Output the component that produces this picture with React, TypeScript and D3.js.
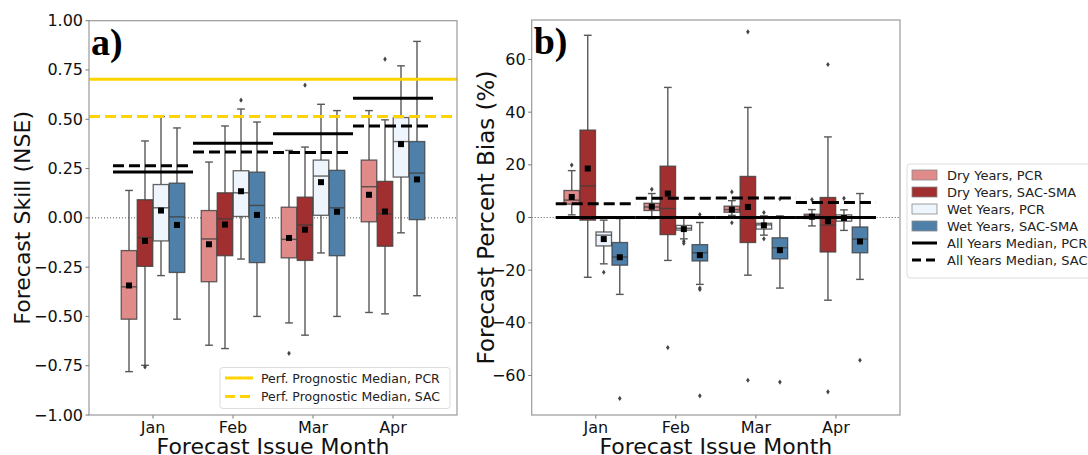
import React from "react";
import * as d3 from "d3";

const months = ["Jan", "Feb", "Mar", "Apr"];
const seriesNames = ["Dry Years, PCR", "Dry Years, SAC-SMA", "Wet Years, PCR", "Wet Years, SAC-SMA"];
const seriesFill = ["#e08a8a", "#a12f2f", "#eff5fd", "#4f80a9"];

// stats per box: [lowWhisker, q1, median, q3, highWhisker, mean]
const nseDryPCR = [
  [-0.78, -0.514, -0.35, -0.166, 0.139, -0.343],
  [-0.646, -0.324, -0.107, 0.037, 0.283, -0.134],
  [-0.533, -0.203, -0.109, 0.054, 0.342, -0.102],
  [-0.48, -0.02, 0.158, 0.293, 0.544, 0.117],
];
const nseDrySAC = [
  [-0.748, -0.246, -0.1, 0.092, 0.39, -0.117],
  [-0.663, -0.192, -0.005, 0.127, 0.466, -0.034],
  [-0.595, -0.216, -0.036, 0.105, 0.359, -0.06],
  [-0.487, -0.144, 0.02, 0.185, 0.497, 0.032],
];
const nseWetPCR = [
  [-0.293, -0.117, 0.051, 0.169, 0.514, 0.037],
  [-0.209, 0.007, 0.127, 0.239, 0.552, 0.135],
  [-0.178, 0.013, 0.212, 0.293, 0.576, 0.181],
  [-0.076, 0.207, 0.387, 0.509, 0.771, 0.374],
];
const nseWetSAC = [
  [-0.514, -0.277, 0.005, 0.176, 0.456, -0.036],
  [-0.5, -0.227, 0.063, 0.232, 0.486, 0.015],
  [-0.5, -0.192, 0.051, 0.241, 0.544, 0.031],
  [-0.395, -0.009, 0.227, 0.387, 0.895, 0.195],
];
// outliers [month index][series index] -> values
const nseOutliers = [
  [[], [-0.756], [], []],
  [[], [], [0.597], []],
  [[-0.687], [0.673], [], []],
  [[], [0.805], [], []],
];
const nseMedianPCR = [0.232, 0.379, 0.427, 0.607];
const nseMedianSAC = [0.264, 0.334, 0.332, 0.466];
const perfMedianPCR = 0.703;
const perfMedianSAC = 0.514;
const nseTicks = [-1.0, -0.75, -0.5, -0.25, 0.0, 0.25, 0.5, 0.75, 1.0];

const pbDryPCR = [
  [1.0, 5.05, 6.6, 10.25, 17.8, 7.8],
  [-0.4, 2.65, 4.0, 5.4, 9.1, 4.1],
  [0.8, 2.0, 3.0, 4.3, 6.4, 3.0],
  [-3.2, -0.4, 0.6, 1.25, 3.0, 0.3],
];
const pbDrySAC = [
  [-22.7, -1.0, 12.0, 33.2, 69.2, 18.6],
  [-16.3, -6.5, 3.4, 19.5, 49.4, 9.1],
  [-21.9, -9.5, 0.2, 15.6, 41.8, 4.0],
  [-31.4, -13.1, -2.9, 7.6, 30.6, -1.4],
];
const pbWetPCR = [
  [-17.6, -10.8, -6.7, -5.5, -1.0, -8.2],
  [-8.1, -4.8, -4.1, -3.0, -0.3, -4.4],
  [-6.7, -4.4, -2.8, -2.2, 0.6, -3.0],
  [-4.9, -1.4, 0.0, 1.0, 2.9, -0.2],
];
const pbWetSAC = [
  [-29.2, -18.1, -15.0, -9.5, -0.4, -15.1],
  [-25.4, -16.5, -13.4, -10.3, -1.9, -14.3],
  [-26.8, -15.7, -11.5, -7.7, 0.6, -12.4],
  [-23.5, -13.4, -8.2, -3.6, 9.1, -9.1],
];
const pbOutliers = [
  [[19.9], [], [-20.8], [-68.7]],
  [[10.7], [-49.4], [-9.0, -9.8], [1.1, -27.3, -26.8, -67.7]],
  [[9.7, -2.0], [70.5, -61.8], [1.9, -8.1], [7.1, -62.5]],
  [[6.8], [58.1, -66.2], [7.3], [-54.2]],
];
const pbMedianPCR = [0.0, 0.0, 0.0, 0.0];
const pbMedianSAC = [5.2, 7.3, 7.45, 5.7];
const pbTicks = [-60, -40, -20, 0, 20, 40, 60];

const FONT = "DejaVu Sans, sans-serif";

type PanelProps = {
  left: number;
  right: number;
  top: number;
  bottom: number;
  yDomain: [number, number];
  ticks: number[];
  tickFmt: (v: number) => string;
  series: number[][][];
  outliers: number[][][];
  medPCR: number[];
  medSAC: number[];
  yLabel: string;
  yLabelSize: number;
  letter: string;
  children?: React.ReactNode;
  yLabelX: number;
};

function Panel(p: PanelProps) {
  const x = d3.scaleLinear().domain([-0.8, 3.8]).range([p.left, p.right]);
  const y = d3.scaleLinear().domain(p.yDomain).range([p.bottom, p.top]);
  const unit = x(1) - x(0);
  const bw = 0.2 * unit * 0.97;
  const offsets = [-0.3, -0.1, 0.1, 0.3];
  const edge = "#3d3d3d";
  const whisk = "#585858";
  return (
    <g>
      <line x1={p.left} x2={p.right} y1={y(0)} y2={y(0)} stroke="#555" strokeWidth={1} strokeDasharray="1,2" />
      {months.map((m, mi) => {
        const cx = x(mi);
        return (
          <g key={m}>
            {p.series.map((s, si) => {
              const [lo, q1, med, q3, hi] = s[mi];
              const bx = x(mi + offsets[si]);
              return (
                <g key={si}>
                  <line x1={bx} x2={bx} y1={y(hi)} y2={y(q3)} stroke={whisk} strokeWidth={1.4} />
                  <line x1={bx} x2={bx} y1={y(q1)} y2={y(lo)} stroke={whisk} strokeWidth={1.4} />
                  <line x1={bx - bw / 4} x2={bx + bw / 4} y1={y(hi)} y2={y(hi)} stroke={whisk} strokeWidth={1.4} />
                  <line x1={bx - bw / 4} x2={bx + bw / 4} y1={y(lo)} y2={y(lo)} stroke={whisk} strokeWidth={1.4} />
                  <rect x={bx - bw / 2} y={y(q3)} width={bw} height={Math.max(0.5, y(q1) - y(q3))} fill={seriesFill[si]} stroke={edge} strokeWidth={1.3} strokeOpacity={0.8} />
                  <line x1={bx - bw / 2} x2={bx + bw / 2} y1={y(med)} y2={y(med)} stroke={edge} strokeWidth={1.4} strokeOpacity={0.8} />
                  {p.outliers[mi][si].map((o, oi) => (
                    <path key={oi} d={`M${bx},${y(o) - 2.6}L${bx + 1.8},${y(o)}L${bx},${y(o) + 2.6}L${bx - 1.8},${y(o)}Z`} fill="#444" />
                  ))}
                </g>
              );
            })}
            <line x1={x(mi - 0.5)} x2={x(mi + 0.5)} y1={y(p.medPCR[mi])} y2={y(p.medPCR[mi])} stroke="#000" strokeWidth={3} />
            <line x1={x(mi - 0.5)} x2={x(mi + 0.5)} y1={y(p.medSAC[mi])} y2={y(p.medSAC[mi])} stroke="#000" strokeWidth={3} strokeDasharray="11,5" />
            {p.series.map((s, si) => {
              const bx = x(mi + offsets[si]);
              const mean = s[mi][5];
              return <rect key={"m" + si} x={bx - 3} y={y(mean) - 3} width={6} height={6} fill="#000" />;
            })}
            <line x1={cx} x2={cx} y1={p.bottom} y2={p.bottom + 3.5} stroke="#777" strokeWidth={1} />
            <text x={cx} y={p.bottom + 12} textAnchor="middle" dominantBaseline="central" fontSize={16} fontFamily={FONT} fill="#111">{m}</text>
          </g>
        );
      })}
      {p.children}
      <rect x={p.left} y={p.top} width={p.right - p.left} height={p.bottom - p.top} fill="none" stroke="#9a9a9a" strokeWidth={1.2} />
      {p.ticks.map((t) => (
        <g key={t}>
          <line x1={p.left - 3.5} x2={p.left} y1={y(t)} y2={y(t)} stroke="#777" strokeWidth={1} />
          <text x={p.left - 6} y={y(t)} textAnchor="end" dominantBaseline="central" fontSize={16} fontFamily={FONT} fill="#111">{p.tickFmt(t)}</text>
        </g>
      ))}
      <text x={p.left + 2} y={p.top + 34} fontSize={38} fontWeight="bold" fontFamily="Liberation Serif, serif" fill="#000">{p.letter}</text>
      <text transform={`translate(${p.yLabelX},${(p.top + p.bottom) / 2}) rotate(-90)`} textAnchor="middle" dominantBaseline="central" fontSize={p.yLabelSize} fontFamily={FONT} fill="#111">{p.yLabel}</text>
      <text x={(p.left + p.right) / 2} y={p.bottom + 31} textAnchor="middle" dominantBaseline="central" fontSize={22} fontFamily={FONT} fill="#111">Forecast Issue Month</text>
    </g>
  );
}

export default function App() {
  const aLeft = 89, aRight = 457, top = 20.7, bottom = 415;
  const yA = d3.scaleLinear().domain([-1, 1]).range([bottom, top]);
  const fmtA = (v: number) => d3.format(".2f")(v).replace("-", "\u2212");
  const fmtB = (v: number) => String(v).replace("-", "\u2212");
  return (
    <svg width={1088} height={455} style={{ position: "absolute", left: 0, top: 0, background: "#fff" }}>
      <Panel
        left={aLeft} right={aRight} top={top} bottom={bottom}
        yDomain={[-1, 1]} ticks={nseTicks} tickFmt={fmtA}
        series={[nseDryPCR, nseDrySAC, nseWetPCR, nseWetSAC]}
        outliers={nseOutliers} medPCR={nseMedianPCR} medSAC={nseMedianSAC}
        yLabel="Forecast Skill (NSE)" yLabelSize={22} letter="a)" yLabelX={22}
      >
        <line x1={aLeft} x2={aRight} y1={yA(perfMedianPCR)} y2={yA(perfMedianPCR)} stroke="#ffd300" strokeWidth={3} />
        <line x1={aLeft} x2={aRight} y1={yA(perfMedianSAC)} y2={yA(perfMedianSAC)} stroke="#ffd300" strokeWidth={3} strokeDasharray="11,5" />
        <g>
          <rect x={220} y={367.5} width={230} height={41} rx={3} fill="#fff" fillOpacity={0.85} stroke="#ddd" />
          <line x1={225} x2={253} y1={378} y2={378} stroke="#ffd300" strokeWidth={3} />
          <text x={261} y={378} dominantBaseline="central" fontSize={12.5} fontFamily={FONT} fill="#222">Perf. Prognostic Median, PCR</text>
          <line x1={225} x2={253} y1={396.5} y2={396.5} stroke="#ffd300" strokeWidth={3} strokeDasharray="10,5" />
          <text x={261} y={396.5} dominantBaseline="central" fontSize={12.5} fontFamily={FONT} fill="#222">Perf. Prognostic Median, SAC</text>
        </g>
      </Panel>
      <Panel
        left={531.7} right={900} top={20} bottom={415}
        yDomain={[-75, 75]} ticks={pbTicks} tickFmt={fmtB}
        series={[pbDryPCR, pbDrySAC, pbWetPCR, pbWetSAC]}
        outliers={pbOutliers} medPCR={pbMedianPCR} medSAC={pbMedianSAC}
        yLabel="Forecast Percent Bias (%)" yLabelSize={23} letter="b)" yLabelX={486}
      />
      <g>
        <rect x={907} y={164} width={186} height={114} rx={3} fill="#fff" stroke="#ddd" />
        {seriesNames.map((n, i) => (
          <g key={n}>
            <rect x={912} y={175 + i * 17 - 5} width={25} height={10} fill={seriesFill[i]} stroke="#888" strokeWidth={0.8} />
            <text x={947} y={175 + i * 17} dominantBaseline="central" fontSize={13} fontFamily={FONT} fill="#222">{n}</text>
          </g>
        ))}
        <line x1={912} x2={937} y1={243} y2={243} stroke="#000" strokeWidth={3} />
        <text x={947} y={243} dominantBaseline="central" fontSize={13} fontFamily={FONT} fill="#222">All Years Median, PCR</text>
        <line x1={912} x2={937} y1={260} y2={260} stroke="#000" strokeWidth={3} strokeDasharray="9,5" />
        <text x={947} y={260} dominantBaseline="central" fontSize={13} fontFamily={FONT} fill="#222">All Years Median, SAC</text>
      </g>
    </svg>
  );
}
